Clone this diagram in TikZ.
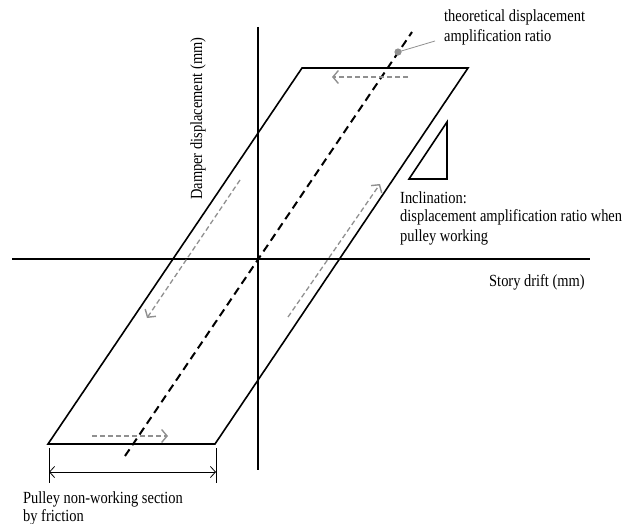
\documentclass[tikz,border=0pt]{standalone}
\usepackage{fontspec}
\setmainfont{Liberation Serif}[FakeStretch=0.85]
\usetikzlibrary{arrows.meta}
\definecolor{flowgray}{HTML}{909090}
\begin{document}
\begin{tikzpicture}[x=1pt,y=-1pt,
  axis/.style={line width=1.6pt,black},
  frame/.style={line width=1.6pt,black,line join=miter},
  theory/.style={line width=2pt,black,dash pattern=on 8pt off 5pt},
  flow/.style={line width=1.3pt,flowgray,dash pattern=on 5pt off 3pt,-{Straight Barb[length=5.5pt,width=13pt,line width=1.4pt]}},
  leader/.style={line width=0.8pt,flowgray},
  dim/.style={line width=0.8pt,black},
  lbl/.style={inner sep=0pt,anchor=base west,font=\fontsize{17}{19}\selectfont}]
\useasboundingbox (0,0) rectangle (632,524);
% axes
\coordinate (xl) at (12,259);
\coordinate (xr) at (590,259);
\coordinate (yt) at (258,27);
\coordinate (yb) at (258,470);
\draw[axis] (xl) -- (xr);
\draw[axis] (yt) -- (yb);
% parallelogram
\coordinate (tl) at (302,68);
\coordinate (tr) at (468,68);
\coordinate (br) at (215,444);
\coordinate (bl) at (48,444);
\draw[frame] (tl) -- (tr) -- (br) -- (bl) -- cycle;
% theoretical line
\coordinate (dt) at (412,32);
\coordinate (db) at (125,456);
\draw[theory] (db) -- (dt);
\coordinate (dot) at (398,52);
\coordinate (ldr) at (435,41);
\draw[leader] (dot) -- (ldr);
\fill[flowgray] (dot) circle (3.6pt);
% flow arrows
\coordinate (a1s) at (408,77); \coordinate (a1e) at (332,77);
\coordinate (a2s) at (240,180); \coordinate (a2e) at (147,318);
\coordinate (a3s) at (288,317); \coordinate (a3e) at (380,184);
\coordinate (a4s) at (92,436); \coordinate (a4e) at (168,436);
\draw[flow] (a1s) -- (a1e);
\draw[flow] (a2s) -- (a2e);
\draw[flow] (a3s) -- (a3e);
\draw[flow] (a4s) -- (a4e);
% triangle
\coordinate (t1) at (447,122);
\coordinate (t2) at (409,179);
\coordinate (t3) at (447,179);
\draw[frame] (t1) -- (t2) -- (t3) -- cycle;
% dimension
\coordinate (k1t) at (49,448); \coordinate (k1b) at (49,483);
\coordinate (k2t) at (216,448); \coordinate (k2b) at (216,483);
\coordinate (m1) at (49,472); \coordinate (m2) at (216,472);
\draw[dim] (k1t) -- (k1b);
\draw[dim] (k2t) -- (k2b);
\draw[dim,{Straight Barb[length=5pt,width=11pt]}-{Straight Barb[length=5pt,width=11pt]}] (m1) -- (m2);
% labels
\node[lbl] (th1) at (444,22) {theoretical displacement};
\node[lbl] (th2) at (444,42) {amplification ratio};
\node[lbl] (in1) at (400,203) {Inclination:};
\node[lbl] (in2) at (400,222) {displacement amplification ratio when};
\node[lbl] (in3) at (400,241) {pulley working};
\node[lbl] (sd) at (489,286) {Story drift (mm)};
\node[lbl,rotate=90] (dd) at (202,200) {Damper displacement (mm)};
\node[lbl] (pn1) at (23,503) {Pulley non-working section};
\node[lbl] (pn2) at (23,521) {by friction};
\end{tikzpicture}
\end{document}
